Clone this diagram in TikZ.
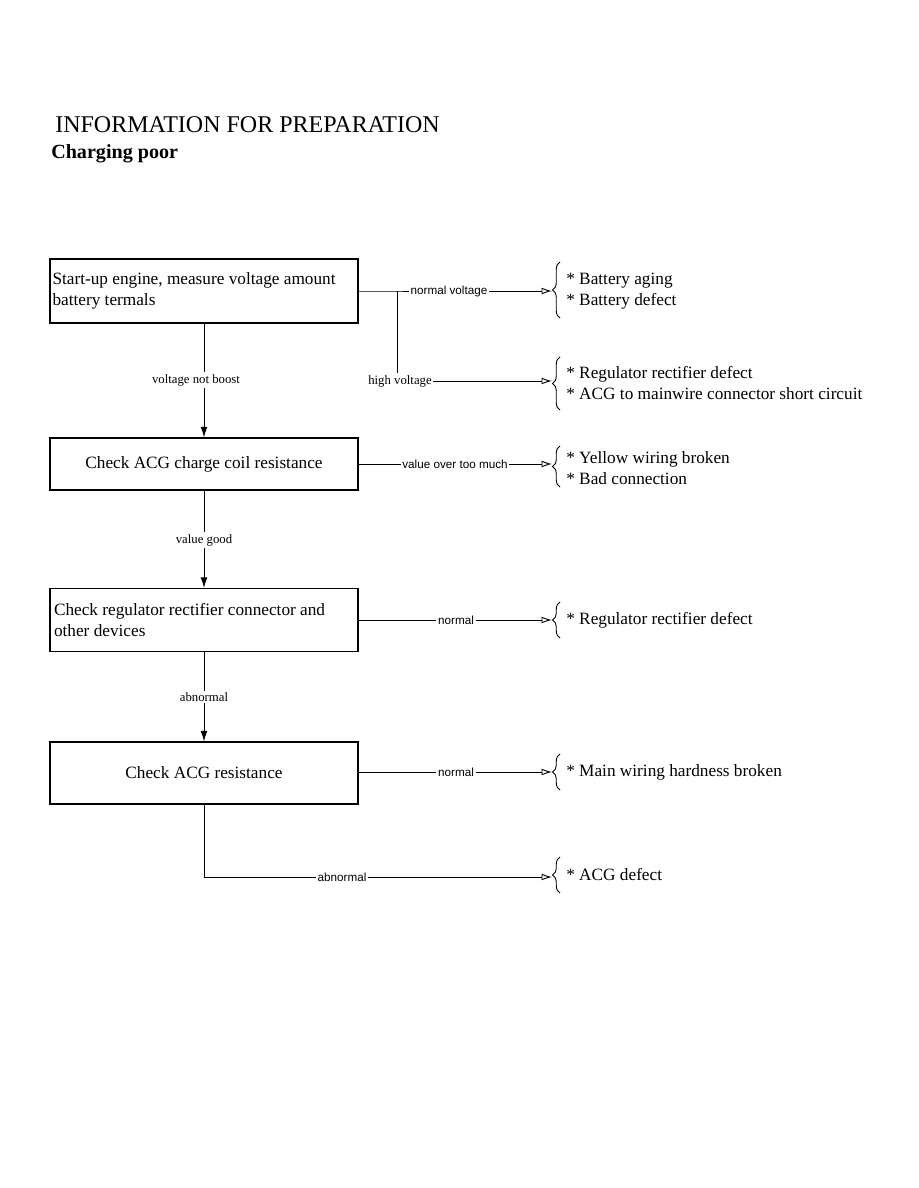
\documentclass[tikz,border=0pt]{standalone}
\usepackage{fontspec}
\setmainfont{Liberation Serif}
\newfontfamily\labelsans{Liberation Sans}
\usetikzlibrary{arrows.meta,positioning,decorations.pathreplacing}

\begin{document}
\begin{tikzpicture}[x=0.6667pt, y=-0.6667pt,
  every node/.style={font=\fontsize{11.5}{14}\selectfont},
  checkbox/.style={draw, line width=0.8pt, minimum width=205.3pt, inner ysep=0pt, inner xsep=1.5pt},
  lab/.style={font=\fontsize{8.5}{10}\selectfont, inner sep=1pt},
  slab/.style={font=\labelsans\fontsize{7.8}{9}\selectfont, inner sep=1pt},
  cause/.style={anchor=west, align=flush left, inner sep=0pt},
  pbrace/.style={decorate, decoration={brace, amplitude=5pt}, line width=0.6pt},
  flow/.style={line width=0.6pt},
  down/.style={line width=0.6pt, -{Latex[length=7pt, width=4.5pt]}},
  side/.style={line width=0.6pt, -{Latex[open, length=7pt, width=4.5pt]}}]
  \useasboundingbox (0,0) rectangle (918,1188);

  % heading
  \node[anchor=west, inner sep=0pt, font=\fontsize{16}{18}\selectfont] (title) at (55,125) {INFORMATION FOR PREPARATION};
  \node[anchor=west, inner sep=0pt, font=\bfseries\fontsize{13.4}{15}\selectfont] (sub) at (51,154) {Charging poor};

  % check steps
  \node[checkbox, minimum height=42.7pt, text width=202pt, align=flush left] (b1) at (204,291) {Start-up engine, measure voltage amount\\battery termals};
  \node[checkbox, minimum height=34.7pt] (b2) at (204,464) {Check ACG charge coil resistance};
  \node[checkbox, minimum height=42pt, text width=200pt, align=flush left, inner xsep=2.5pt] (b3) at (204,620) {Check regulator rectifier connector and\\other devices};
  \node[checkbox, minimum height=41.3pt] (b4) at (204,773) {Check ACG resistance};

  % labels
  \node[lab] (lnb) at (196,380) {voltage not boost};
  \node[lab] (lvg) at (204,540) {value good};
  \node[lab] (lab3) at (204,697) {abnormal};
  \node[slab] (lnv) at (449,291) {normal voltage};
  \node[lab] (lhv) at (400,381) {high voltage};
  \node[slab] (lvo) at (455,464) {value over too much};
  \node[slab] (ln3) at (456,620) {normal};
  \node[slab] (ln4) at (456,772) {normal};
  \node[slab] (lab4) at (342,877) {abnormal};

  % causes
  \node[cause] (c1) at (566,291) {* Battery aging\\* Battery defect};
  \node[cause] (c2) at (566,383) {* Regulator rectifier defect\\* ACG to mainwire connector short circuit};
  \node[cause] (c3) at (566,468) {* Yellow wiring broken\\* Bad connection};
  \node[cause] (c4) at (566,620) {* Regulator rectifier defect};
  \node[cause] (c5) at (566,772) {* Main wiring hardness broken};
  \node[cause] (c6) at (566,875) {* ACG defect};

  \draw[pbrace] (560,318) -- (560,262);
  \draw[pbrace] (560,410) -- (560,357);
  \draw[pbrace] (560,487) -- (560,446);
  \draw[pbrace] (560,638) -- (560,602);
  \draw[pbrace] (560,790) -- (560,754);
  \draw[pbrace] (560,893) -- (560,857);

  \coordinate (j1) at (397,291);
  \coordinate (r1) at (552,291);
  \coordinate (r2) at (552,381);
  \coordinate (r3) at (552,464);
  \coordinate (r4) at (552,620);
  \coordinate (r5) at (552,772);
  \coordinate (r6) at (552,877);

  % main line
  \draw[flow] (b1.south) -- (b1.south |- lnb.north);
  \draw[down] (b1.south |- lnb.south) -- (b2.north);
  \draw[flow] (b2.south) -- (lvg.north);
  \draw[down] (lvg.south) -- (b3.north);
  \draw[flow] (b3.south) -- (lab3.north);
  \draw[down] (lab3.south) -- (b4.north);
  \draw[flow] (b4.south) |- (lab4.west);
  \draw[side] (lab4.east) -- (r6);

  % side branches
  \draw[flow] (b1.east |- j1) -- (j1) -- (lnv.west);
  \draw[side] (lnv.east) -- (r1);
  \draw[flow] (j1) -- (j1 |- lhv.north);
  \draw[side] (lhv.east) -- (r2);
  \draw[flow] (b2.east) -- (lvo.west);
  \draw[side] (lvo.east) -- (r3);
  \draw[flow] (b3.east) -- (ln3.west);
  \draw[side] (ln3.east) -- (r4);
  \draw[flow] (b4.east |- ln4) -- (ln4.west);
  \draw[side] (ln4.east) -- (r5);
\end{tikzpicture}
\end{document}
